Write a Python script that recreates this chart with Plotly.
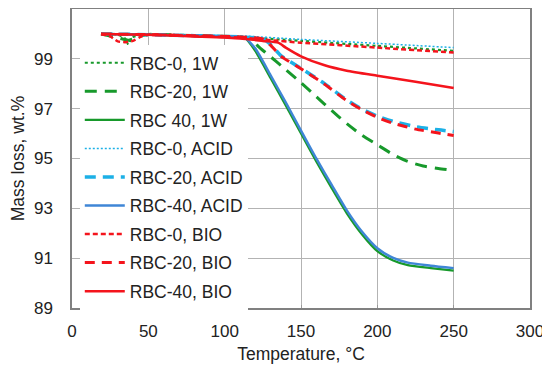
import plotly.graph_objects as go

# ---- data ----
t_g0 = [19, 30, 35, 37, 39, 45, 50, 80, 110, 150, 200, 250]
v_g0 = [100.0, 99.97, 99.8, 99.55, 99.85, 99.95, 99.97, 99.93, 99.88, 99.72, 99.52, 99.32]

t_g20 = [19, 30, 37, 45, 50, 80, 110, 118, 122, 128, 140, 150, 160, 170, 180, 190, 200, 210, 220, 230, 240, 250]
v_g20 = [100.0, 99.85, 99.75, 99.92, 99.98, 99.93, 99.88, 99.8, 99.5, 99.19, 98.57, 98.04, 97.48, 96.93, 96.4, 95.93, 95.55, 95.17, 94.88, 94.7, 94.6, 94.52]

t_g40 = [19, 50, 80, 110, 113, 120, 130, 140, 150, 160, 170, 180, 190, 200, 210, 220, 235, 250]
v_g40 = [100.0, 99.97, 99.93, 99.88, 99.85, 99.32, 98.23, 97.13, 96.0, 94.88, 93.82, 92.8, 91.95, 91.28, 90.92, 90.72, 90.6, 90.5]

t_a0 = [19, 50, 80, 110, 150, 200, 250]
v_a0 = [100.0, 99.98, 99.95, 99.92, 99.78, 99.62, 99.45]

t_a20 = [19, 50, 80, 110, 125, 130, 137, 150, 165, 180, 190, 200, 210, 225, 240, 250]
v_a20 = [100.0, 99.97, 99.93, 99.88, 99.8, 99.58, 99.12, 98.62, 98.02, 97.35, 96.98, 96.7, 96.5, 96.28, 96.15, 96.08]

t_a40 = [19, 50, 80, 110, 113, 120, 130, 140, 150, 160, 170, 180, 190, 200, 210, 220, 235, 250]
v_a40 = [100.0, 99.97, 99.93, 99.88, 99.87, 99.42, 98.35, 97.25, 96.12, 95.0, 93.95, 92.92, 92.06, 91.4, 91.02, 90.82, 90.7, 90.6]

t_b0 = [19, 25, 30, 35, 40, 45, 50, 80, 110, 130, 150, 200, 250]
v_b0 = [100.0, 99.9, 99.7, 99.67, 99.72, 99.88, 99.97, 99.92, 99.85, 99.75, 99.65, 99.45, 99.25]

t_b20 = [19, 50, 80, 110, 125, 130, 137, 150, 165, 180, 190, 200, 210, 225, 240, 250]
v_b20 = [100.0, 99.97, 99.93, 99.88, 99.8, 99.55, 99.1, 98.6, 98.0, 97.32, 96.95, 96.65, 96.42, 96.18, 96.02, 95.92]

t_b40 = [19, 50, 80, 110, 125, 135, 140, 150, 165, 180, 200, 225, 250]
v_b40 = [100.0, 99.97, 99.9, 99.82, 99.72, 99.65, 99.45, 99.1, 98.75, 98.52, 98.32, 98.08, 97.83]

names = ["RBC-0, 1W", "RBC-20, 1W", "RBC 40, 1W",
         "RBC-0, ACID", "RBC-20, ACID", "RBC-40, ACID",
         "RBC-0, BIO", "RBC-20, BIO", "RBC-40, BIO"]

x_ticks = [0, 50, 100, 150, 200, 250, 300]
y_ticks = [89, 91, 93, 95, 97, 99]

# ---- styles ----
GREEN = "#17992b"
CYAN = "#1cb0e6"
BLUE = "#3f86d6"
RED = "#f4141c"

series = [
    (t_g0, v_g0, dict(color=GREEN, width=2.2, dash="dot")),
    (t_g20, v_g20, dict(color=GREEN, width=3, dash="12px,8px")),
    (t_g40, v_g40, dict(color=GREEN, width=2.2)),
    (t_a0, v_a0, dict(color=CYAN, width=1.5, dash="2px,2px")),
    (t_a20, v_a20, dict(color=CYAN, width=3.5, dash="11px,7px")),
    (t_a40, v_a40, dict(color=BLUE, width=2.5)),
    (t_b0, v_b0, dict(color=RED, width=2.5, dash="5px,3px")),
    (t_b20, v_b20, dict(color=RED, width=3, dash="10px,7px")),
    (t_b40, v_b40, dict(color=RED, width=2.5)),
]

fig = go.Figure()
for i, ((t, v, ln), nm) in enumerate(zip(series, names)):
    fig.add_trace(go.Scatter(x=t, y=v, mode="lines", name=nm, legendgroup=f"g{i}",
                             line=dict(shape="spline", smoothing=0.6, **ln)))

FONT = "Arial, Liberation Sans, sans-serif"
# page body has an 8px default margin, so the figure is sized/offset to compensate
fig.update_layout(
    width=542, height=364,
    margin=dict(l=64, r=20, t=1, b=64),
    paper_bgcolor="white", plot_bgcolor="white",
    font=dict(family=FONT, size=17, color="#222222"),
    showlegend=True,
    legend=dict(x=0.017, y=0.88, xanchor="left", yanchor="top",
                bgcolor="white", borderwidth=0,
                font=dict(family=FONT, size=17.5, color="#222222"),
                tracegroupgap=2.8, itemwidth=40),
    xaxis=dict(range=[0, 300], tickvals=x_ticks, showgrid=True,
               gridcolor="#b3b3b3", gridwidth=1,
               showline=True, linecolor="#808080", linewidth=1.5, mirror=True,
               ticks="inside", ticklen=3, tickcolor="#999999",
               ticklabelstandoff=7,
               zeroline=False, automargin=False,
               title=dict(text="Temperature, °C", font=dict(size=17.5), standoff=8)),
    yaxis=dict(range=[89, 101], tickvals=y_ticks, showgrid=True,
               gridcolor="#b3b3b3", gridwidth=1,
               showline=True, linecolor="#808080", linewidth=1.5, mirror=True,
               ticks="", zeroline=False, automargin=False,
               ticklabelstandoff=14,
               title=dict(text="Mass loss, wt.%", font=dict(size=17.5), standoff=12)),
)

fig.write_html("out.html")
